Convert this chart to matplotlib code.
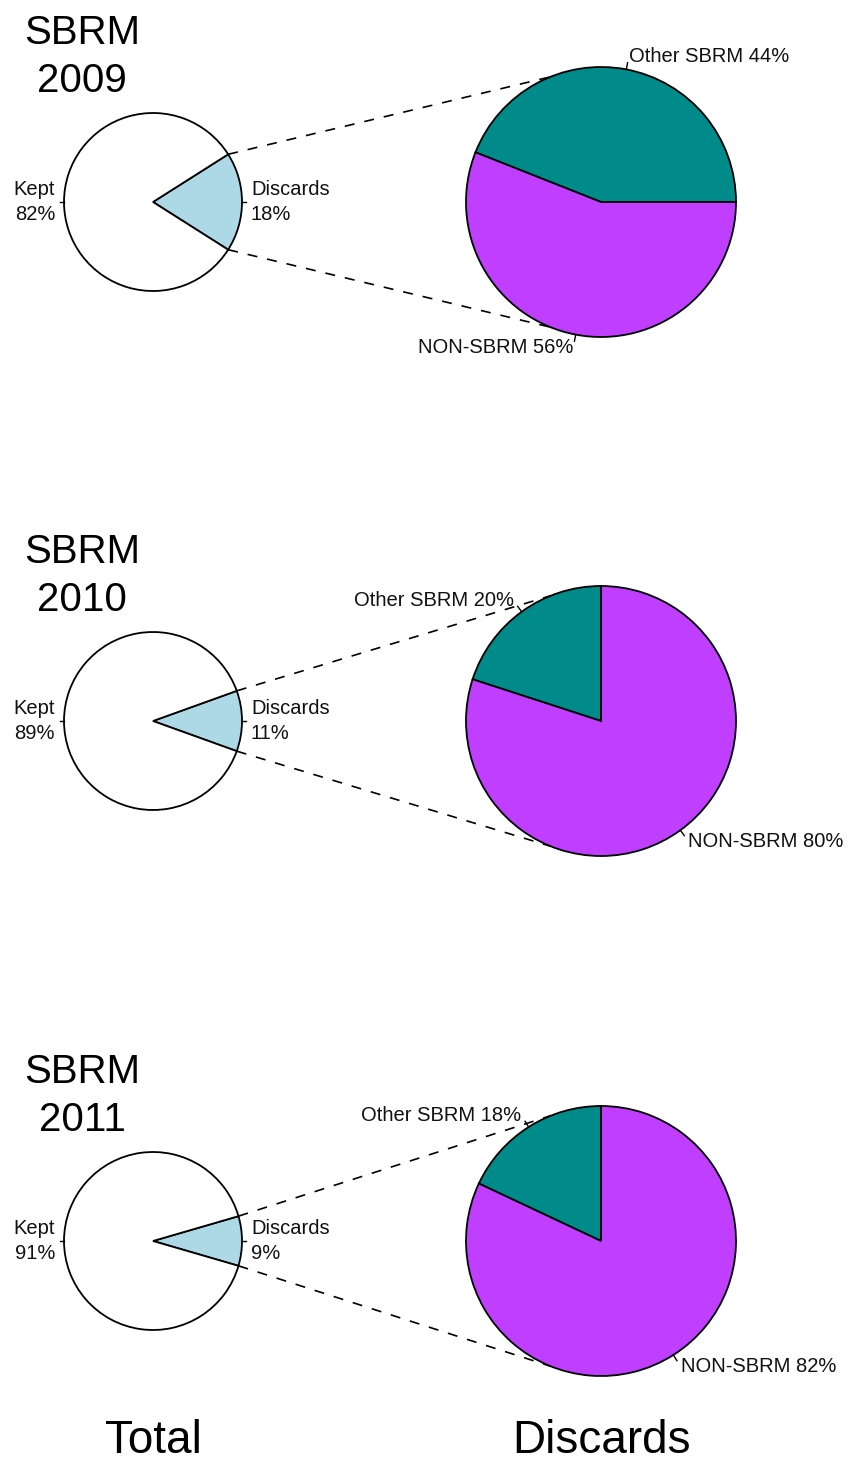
import numpy as np
import matplotlib.pyplot as plt

plt.rcParams['font.family'] = ['Liberation Sans', 'DejaVu Sans']

# data
years = ['2009', '2010', '2011']
kept_pct = [82, 89, 91]
discard_pct = [18, 11, 9]
other_sbrm_pct = [44, 20, 18]
non_sbrm_pct = [56, 80, 82]
discards_start = [0, 90, 90]   # start angle of the right pie

# layout, in pixels from the top left
W, H = 852, 1464
row_y = [202, 721, 1241]
small_x, small_r = 153, 89
big_x, big_r = 601, 135
link_ang = 112            # where the dashed lines meet the big pie

col_white = 'white'
col_disc = '#ADD8E6'
col_other = '#008B8B'
col_non = '#BF3EFF'
lab_fs = 14.5


def Y(py):
    return H - py


def pie_labels(ax, wedges, labels, cx, cy, r):
    # R style labels: small tick out of the rim, text at 1.1 r
    for w, lab in zip(wedges, labels):
        a = np.deg2rad((w.theta1 + w.theta2) / 2)
        c, s = np.cos(a), np.sin(a)
        ax.plot([cx + r*c, cx + 1.05*r*c], [cy + r*s, cy + 1.05*r*s],
                color='black', lw=1.0)
        ax.text(cx + 1.1*r*c, cy + 1.1*r*s, lab,
                ha='left' if c > 0 else 'right', va='center',
                fontsize=lab_fs, linespacing=1.4, color='#111111')


fig = plt.figure(figsize=(W/100, H/100), dpi=100)
ax = fig.add_axes([0, 0, 1, 1])

wp = dict(edgecolor='black', linewidth=1.3)
for i, yr in enumerate(years):
    cy = Y(row_y[i])

    # total: discards wedge centred on the right
    d, k = discard_pct[i], kept_pct[i]
    w_small, _ = ax.pie([d, k], colors=[col_disc, col_white],
                        startangle=-d/100*180, center=(small_x, cy),
                        radius=small_r, wedgeprops=wp)
    pie_labels(ax, w_small, ['Discards\n%d%%' % d, 'Kept\n%d%%' % k],
               small_x, cy, small_r)

    # discards split
    o, n = other_sbrm_pct[i], non_sbrm_pct[i]
    w_big, _ = ax.pie([o, n], colors=[col_other, col_non],
                      startangle=discards_start[i], center=(big_x, cy),
                      radius=big_r, wedgeprops=wp)
    pie_labels(ax, w_big, ['Other SBRM %d%%' % o, 'NON-SBRM %d%%' % n],
               big_x, cy, big_r)

    # dashed links
    half = np.deg2rad(d/100*180)
    for sgn in (1, -1):
        x0 = small_x + small_r*np.cos(half)
        y0 = cy + sgn*small_r*np.sin(half)
        x1 = big_x + big_r*np.cos(np.deg2rad(link_ang))
        y1 = cy + sgn*big_r*np.sin(np.deg2rad(link_ang))
        ax.plot([x0, x1], [y0, y1], color='black', lw=1.2,
                linestyle=(0, (6, 6)), zorder=0)

    # baseline of the second line (the year)
    ax.text(82, Y(row_y[i] - 110), 'SBRM\n' + yr, ha='center',
            va='baseline', fontsize=29, linespacing=1.33)

ax.text(small_x, Y(1453), 'Total', ha='center', va='baseline', fontsize=33)
ax.text(big_x, Y(1453), 'Discards', ha='center', va='baseline', fontsize=33)

ax.set_xlim(0, W)
ax.set_ylim(0, H)
ax.set_aspect('equal')
ax.axis('off')
fig.savefig('out.png', dpi=100)
